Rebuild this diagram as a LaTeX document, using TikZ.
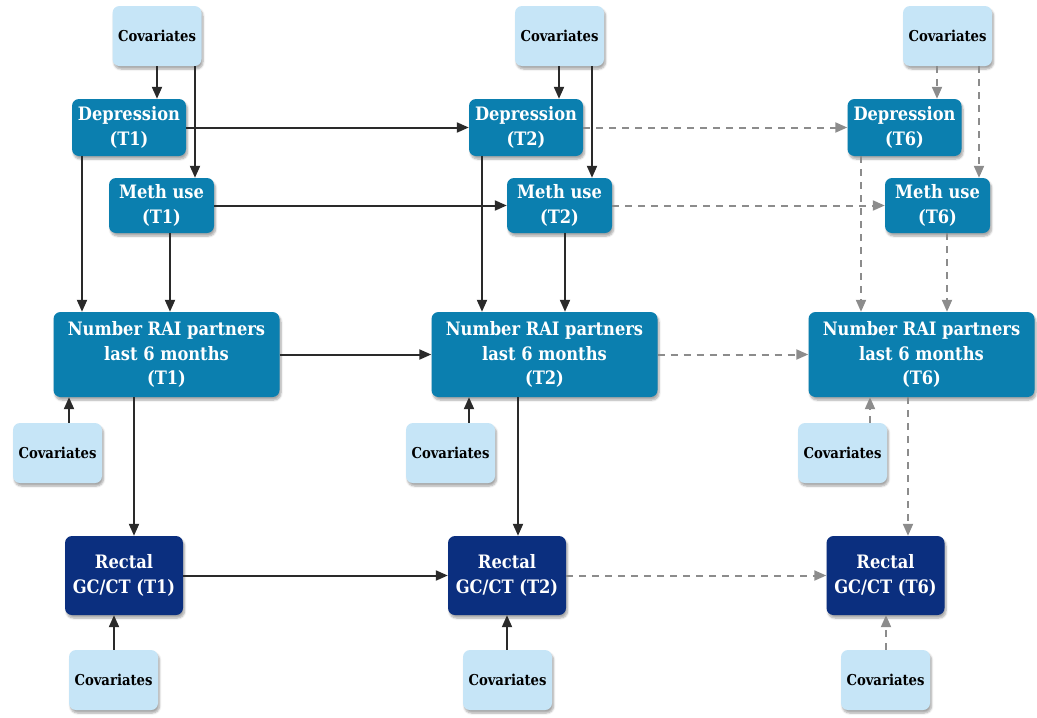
\documentclass[tikz,border=0pt]{standalone}
\usepackage{fontspec}
\setmainfont{DejaVu Serif}[FakeStretch=0.88]
\usetikzlibrary{arrows.meta,shadows.blur}
\definecolor{covfill}{HTML}{C6E5F7}
\definecolor{midfill}{HTML}{0B7FAF}
\definecolor{darkfill}{HTML}{0B2F7F}
\definecolor{solidline}{HTML}{2A2A2A}
\definecolor{dashline}{HTML}{8C8C8C}
\tikzset{
  boxbase/.style={rounded corners=7pt, inner sep=2pt, align=center,
    blur shadow={shadow xshift=1.5pt, shadow yshift=-3pt, shadow blur steps=6, shadow opacity=35}},
  cov/.style={boxbase, fill=covfill, text=black, minimum width=89pt, minimum height=60pt,
    font=\bfseries\fontsize{15}{18}\selectfont},
  midbox/.style={boxbase, fill=midfill, text=white, font=\bfseries\fontsize{18.5}{24.5}\selectfont},
  darkbox/.style={boxbase, fill=darkfill, text=white, minimum width=118pt, minimum height=79pt,
    font=\bfseries\fontsize{18.5}{24.5}\selectfont},
  depbox/.style={midbox, minimum width=114pt, minimum height=57pt},
  methbox/.style={midbox, minimum width=105pt, minimum height=55pt},
  raibox/.style={midbox, minimum width=226pt, minimum height=85pt},
  sarr/.style={draw=solidline, line width=2pt, -{Triangle[length=12pt,width=10pt]}},
  darr/.style={draw=dashline, line width=2pt, dash pattern=on 7pt off 6pt, -{Triangle[length=12pt,width=10pt]}}
}
\begin{document}
\begin{tikzpicture}[x=1pt,y=-1pt]
\useasboundingbox (0,0) rectangle (1037,718);
% Column 1
\node[cov] (cov1t) at (157,36) {Covariates};
\node[depbox] (dep1) at (129,127.5) {Depression\\(T1)};
\node[methbox] (meth1) at (161.5,205.5) {Meth use\\(T1)};
\node[raibox] (rai1) at (166.5,354.5) {Number RAI partners\\last 6 months\\(T1)};
\node[cov] (cov1m) at (57.5,453) {Covariates};
\node[darkbox] (rec1) at (124,575.5) {Rectal\\GC/CT (T1)};
\node[cov] (cov1b) at (113.5,680) {Covariates};
% Column 2
\node[cov] (cov2t) at (559.5,36) {Covariates};
\node[depbox] (dep2) at (526,127.5) {Depression\\(T2)};
\node[methbox] (meth2) at (559.5,205.5) {Meth use\\(T2)};
\node[raibox] (rai2) at (544.5,354.5) {Number RAI partners\\last 6 months\\(T2)};
\node[cov] (cov2m) at (450.5,453) {Covariates};
\node[darkbox] (rec2) at (507,575.5) {Rectal\\GC/CT (T2)};
\node[cov] (cov2b) at (507.5,680) {Covariates};
% Column 3
\node[cov] (cov3t) at (947.5,36) {Covariates};
\node[depbox] (dep3) at (904.5,127.5) {Depression\\(T6)};
\node[methbox] (meth3) at (937.5,205.5) {Meth use\\(T6)};
\node[raibox] (rai3) at (921.5,354.5) {Number RAI partners\\last 6 months\\(T6)};
\node[cov] (cov3m) at (842.5,453) {Covariates};
\node[darkbox] (rec3) at (885.5,575.5) {Rectal\\GC/CT (T6)};
\node[cov] (cov3b) at (885.5,680) {Covariates};
% x positions of vertical connectors
\coordinate (a1) at (157,0); \coordinate (b1) at (195,0); \coordinate (c1) at (82,0);
\coordinate (d1) at (170,0); \coordinate (e1) at (69,0); \coordinate (f1) at (134,0);
\coordinate (g1) at (114,0);
\coordinate (a2) at (559,0); \coordinate (b2) at (592,0); \coordinate (c2) at (482,0);
\coordinate (d2) at (565,0); \coordinate (e2) at (469,0); \coordinate (f2) at (518,0);
\coordinate (g2) at (507,0);
\coordinate (a3) at (937,0); \coordinate (b3) at (979,0); \coordinate (c3) at (861,0);
\coordinate (d3) at (947,0); \coordinate (e3) at (870,0); \coordinate (f3) at (908,0);
\coordinate (g3) at (886,0);
% Column 1 verticals
\draw[sarr] (cov1t.south -| a1) -- (dep1.north -| a1);
\draw[sarr] (cov1t.south -| b1) -- (meth1.north -| b1);
\draw[sarr] (dep1.south -| c1) -- (rai1.north -| c1);
\draw[sarr] (meth1.south -| d1) -- (rai1.north -| d1);
\draw[sarr] (cov1m.north -| e1) -- (rai1.south -| e1);
\draw[sarr] (rai1.south -| f1) -- (rec1.north -| f1);
\draw[sarr] (cov1b.north -| g1) -- (rec1.south -| g1);
% Column 2 verticals
\draw[sarr] (cov2t.south -| a2) -- (dep2.north -| a2);
\draw[sarr] (cov2t.south -| b2) -- (meth2.north -| b2);
\draw[sarr] (dep2.south -| c2) -- (rai2.north -| c2);
\draw[sarr] (meth2.south -| d2) -- (rai2.north -| d2);
\draw[sarr] (cov2m.north -| e2) -- (rai2.south -| e2);
\draw[sarr] (rai2.south -| f2) -- (rec2.north -| f2);
\draw[sarr] (cov2b.north -| g2) -- (rec2.south -| g2);
% Column 3 verticals
\draw[darr] (cov3t.south -| a3) -- (dep3.north -| a3);
\draw[darr] (cov3t.south -| b3) -- (meth3.north -| b3);
\draw[darr] (dep3.south -| c3) -- (rai3.north -| c3);
\draw[darr] (meth3.south -| d3) -- (rai3.north -| d3);
\draw[darr] (cov3m.north -| e3) -- (rai3.south -| e3);
\draw[darr] (rai3.south -| f3) -- (rec3.north -| f3);
\draw[darr] (cov3b.north -| g3) -- (rec3.south -| g3);
% Horizontals
\draw[sarr] (dep1.east) -- (dep2.west);
\draw[sarr] (meth1.east) -- (meth2.west);
\draw[sarr] (rai1.east) -- (rai2.west);
\draw[sarr] (rec1.east) -- (rec2.west);
\draw[darr] (dep2.east) -- (dep3.west);
\draw[darr] (meth2.east) -- (meth3.west);
\draw[darr] (rai2.east) -- (rai3.west);
\draw[darr] (rec2.east) -- (rec3.west);
\end{tikzpicture}
\end{document}
